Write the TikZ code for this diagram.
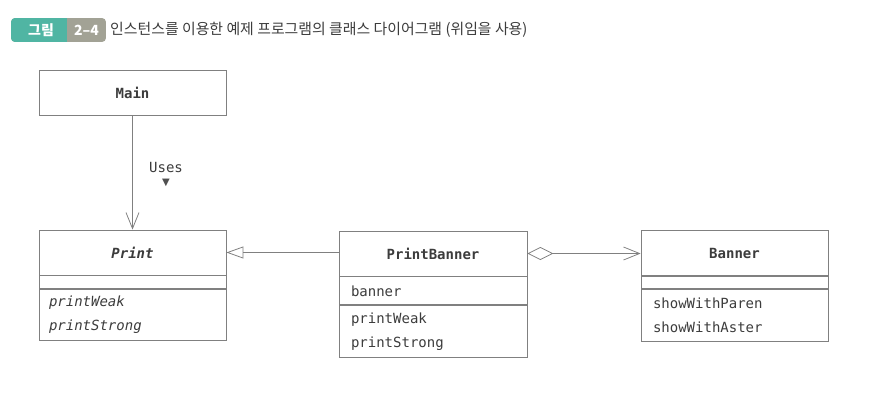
\documentclass[tikz,border=0pt]{standalone}
\usepackage{fontspec}
\setmonofont{DejaVu Sans Mono}
\newfontfamily\kofont{Noto Sans CJK KR}
\newfontfamily\symfont{DejaVu Sans}
\usetikzlibrary{positioning,arrows.meta}
\definecolor{linegray}{HTML}{808080}
\definecolor{ink}{HTML}{3C3C3C}
\definecolor{badgeteal}{HTML}{50B5A3}
\definecolor{badgegray}{HTML}{A2A295}
\tikzset{
  classhead/.style={draw=linegray, line width=0.8pt, text=ink, inner sep=0pt,
    minimum width=187pt, minimum height=45pt, font=\fontsize{14}{16}\selectfont\ttfamily\bfseries},
  classpart/.style={draw=linegray, line width=0.8pt, text=ink, inner xsep=10pt, inner ysep=0pt,
    text width=167pt, align=left, font=\fontsize{14}{24}\selectfont\ttfamily},
  badgetext/.style={text=white, inner sep=0pt, font=\fontsize{14}{16}\selectfont\kofont\bfseries},
  conn/.style={draw=linegray, line width=0.8pt},
  usesarrow/.style={conn, -{Straight Barb[length=16pt,width=13pt]}},
  inherit/.style={conn, -{Triangle[open,length=17pt,width=12pt]}},
  aggregate/.style={conn, {Diamond[open,length=26pt,width=13pt]}-{Straight Barb[length=16pt,width=13pt]}}
}
\begin{document}
\begin{tikzpicture}[x=1pt,y=-1pt]
  \useasboundingbox (0,0) rectangle (877,414);
  % title
  \begin{scope}
    \clip[rounded corners=4pt] (11,18) rectangle (106,42);
    \fill[badgegray] (11,18) rectangle (106,42);
    \fill[badgeteal] (11,18) rectangle (67,42);
  \end{scope}
  \node[badgetext] (figword) at (41,30) {그림};
  \node[badgetext] (fignum) at (86.5,30) {2–4};
  \node[anchor=west, text=ink, inner sep=0pt, font=\fontsize{14.9}{17}\selectfont\kofont] (title)
    at (110,30) {인스턴스를 이용한 예제 프로그램의 클래스 다이어그램 (위임을 사용)};
  % classes
  \node[classhead] (main) at (132.5,92.5) {Main};
  \node[classhead, font=\fontsize{14}{16}\selectfont\ttfamily\bfseries\itshape] (print) at (132.5,252.5) {Print};
  \node[classpart, minimum height=13pt, below=0pt of print] (printattr) {};
  \node[classpart, minimum height=51pt, below=0pt of printattr, font=\fontsize{14}{24}\selectfont\ttfamily\itshape]
    (printops) {printWeak\\printStrong};
  \node[classhead, minimum width=188pt] (pbanner) at (433,253.5) {PrintBanner};
  \node[classpart, minimum height=28pt, text width=164pt, inner xsep=12pt, below=0pt of pbanner] (pbannerattr) {banner};
  \node[classpart, minimum height=52pt, text width=164pt, inner xsep=12pt, below=0pt of pbannerattr]
    (pbannerops) {printWeak\\printStrong};
  \node[classhead] (banner) at (734.5,253) {Banner};
  \node[classpart, minimum height=12pt, text width=163pt, inner xsep=12pt, below=0pt of banner] (bannerattr) {};
  \node[classpart, minimum height=52pt, text width=163pt, inner xsep=12pt, below=0pt of bannerattr]
    (bannerops) {showWithParen\\showWithAster};
  % relations
  \draw[usesarrow] (main) -- (print);
  \node[text=ink, inner sep=0pt, font=\fontsize{14}{16}\selectfont\ttfamily] (useslabel) at (166,167) {Uses};
  \node[text=ink!90, inner sep=0pt, font=\fontsize{10}{12}\selectfont\symfont] (usesmark) at (166,183) {▼};
  \draw[inherit] (pbanner.west |- print.east) -- (print.east);
  \draw[aggregate] (pbanner.east) -- (pbanner.east -| banner.west);
\end{tikzpicture}
\end{document}
